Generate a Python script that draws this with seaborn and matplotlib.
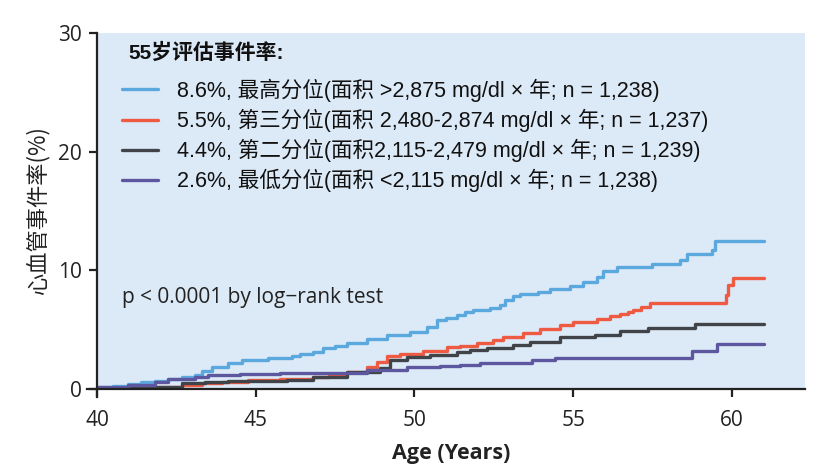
import matplotlib
matplotlib.use("Agg")
import matplotlib.pyplot as plt
from matplotlib.font_manager import FontProperties
import seaborn as sns
import pandas as pd

# ---- data ----
age_highest = [40.0, 40.04, 40.5, 40.99, 41.4, 41.83, 42.25, 42.67, 43.09, 43.3, 43.61, 44.14, 44.56,
               45.4, 46.13, 46.39, 46.8, 47.13, 47.5, 47.86, 48.49, 49.12, 49.86, 50.38, 50.7, 51.0,
               51.33, 51.59, 51.85, 52.38, 52.69, 52.85, 53.11, 53.32, 53.9, 54.27, 54.9, 55.32, 55.74,
               55.95, 56.37, 57.47, 58.36, 58.57, 59.36, 59.46, 61.0]
rate_highest = [0.0, 0.14, 0.28, 0.42, 0.56, 0.70, 0.84, 0.98, 1.18, 1.54, 1.88, 2.16, 2.44,
                2.58, 2.78, 2.95, 3.15, 3.42, 3.65, 3.90, 4.19, 4.55, 4.83, 5.25, 5.81, 6.00,
                6.23, 6.51, 6.68, 6.80, 7.08, 7.50, 7.83, 8.00, 8.15, 8.40, 8.68, 8.99, 9.46,
                9.97, 10.25, 10.50, 10.87, 11.35, 11.70, 12.47, 12.47]

age_third = [40.0, 41.2, 41.83, 42.67, 43.3, 43.93, 44.77, 45.76, 46.81, 47.3, 47.86, 48.49, 48.81,
             49.12, 49.54, 50.28, 51.01, 51.43, 51.96, 52.48, 52.8, 53.43, 53.95, 54.58, 55.0, 55.74,
             56.16, 56.47, 56.73, 56.89, 57.15, 57.42, 59.81, 59.86, 60.02, 61.0]
rate_third = [0.0, 0.06, 0.20, 0.31, 0.48, 0.62, 0.76, 0.81, 1.04, 1.25, 1.46, 1.83, 2.30,
              2.78, 2.95, 3.23, 3.51, 3.65, 3.90, 4.13, 4.41, 4.69, 5.03, 5.39, 5.62, 5.87,
              6.15, 6.29, 6.51, 6.65, 6.94, 7.22, 7.92, 8.76, 9.38, 9.38]

age_second = [40.0, 40.6, 41.6, 42.67, 43.4, 44.14, 46.0, 46.81, 47.86, 48.91, 49.23, 49.75, 50.49,
              51.33, 51.75, 52.27, 53.11, 53.64, 54.58, 55.69, 56.47, 57.36, 58.83, 61.0]
rate_second = [0.0, 0.06, 0.20, 0.48, 0.62, 0.70, 0.80, 1.04, 1.46, 1.74, 2.44, 2.67, 2.86,
               3.10, 3.29, 3.48, 3.71, 3.99, 4.35, 4.55, 4.91, 5.11, 5.48, 5.48]

age_lowest = [40.0, 40.04, 40.99, 41.83, 42.25, 43.09, 43.5, 44.5, 45.76, 47.0, 48.49, 49.75, 50.8,
              51.43, 52.06, 53.69, 54.43, 58.73, 59.52, 61.0]
rate_lowest = [0.0, 0.14, 0.34, 0.62, 0.81, 0.98, 1.15, 1.25, 1.32, 1.37, 1.60, 1.83, 1.94,
               2.02, 2.22, 2.44, 2.58, 3.23, 3.79, 3.79]

labels = ["8.6%, 最高分位(面积 >2,875 mg/dl × 年; n = 1,238)",
          "5.5%, 第三分位(面积 2,480-2,874 mg/dl × 年; n = 1,237)",
          "4.4%, 第二分位(面积2,115-2,479 mg/dl × 年; n = 1,239)",
          "2.6%, 最低分位(面积 <2,115 mg/dl × 年; n = 1,238)"]
colors = ["#5BA8DF", "#EF5A43", "#404347", "#5C579F"]
legend_title = "55岁评估事件率:"
x_ticks = [40, 45, 50, 55, 60]
y_ticks = [0, 10, 20, 30]
x_label = "Age (Years)"
y_label = "心血管事件率(%)"
p_text = "p < 0.0001 by log\u2212rank test"

series = [(age_highest, rate_highest), (age_third, rate_third),
          (age_second, rate_second), (age_lowest, rate_lowest)]

# ---- plot ----
sns.set_theme(style="white")
plt.rcParams['font.family'] = ['Open Sans', 'Noto Sans CJK SC', 'DejaVu Sans']

fig = plt.figure(figsize=(8.31, 4.72), dpi=100)
ax = fig.add_axes([0.1167, 0.1758, 0.852, 0.7542])
ax.set_facecolor("#DCE9F6")

for (xs, ys), lab, col in zip(series, labels, colors):
    df = pd.DataFrame({"age": xs, "rate": ys})
    sns.lineplot(data=df, x="age", y="rate", ax=ax, color=col, lw=2.4,
                 drawstyle="steps-post", estimator=None, sort=False, label=lab)

ax.set_xlim(40, 62.3)
ax.set_ylim(0, 30)
ax.set_xticks(x_ticks)
ax.set_yticks(y_ticks)
ax.tick_params(axis="both", direction="out", length=6, width=1.6, color="#222222",
               labelsize=15, labelcolor="#222222", bottom=True, left=True)
ax.tick_params(axis="x", pad=9)
ax.tick_params(axis="y", pad=5)
for s in ["top", "right"]:
    ax.spines[s].set_visible(False)
for s in ["left", "bottom"]:
    ax.spines[s].set_color("#222222")
    ax.spines[s].set_linewidth(1.6)
ax.spines["bottom"].set_bounds(39.7, 62.3)
ax.spines["left"].set_bounds(-0.7, 30)

ax.set_xlabel(x_label, fontsize=15.5, fontweight="bold", color="#222222",
              family=['Liberation Sans Narrow', 'Open Sans', 'DejaVu Sans'], labelpad=9)
ax.set_ylabel(y_label, fontsize=16, color="#222222",
              family=['Noto Sans CJK SC', 'DejaVu Sans'], labelpad=6)

ax.text(40.8, 7.7, p_text, fontsize=15, color="#222222", va="center", ha="left",
        family=['Open Sans', 'DejaVu Sans'])

ax.text(0.0438, 0.944, legend_title, transform=ax.transAxes, fontsize=15, fontweight="bold",
        color="#111111", va="center", ha="left",
        family=['Liberation Sans', 'Noto Sans CJK SC', 'DejaVu Sans'])

leg_font = FontProperties(family=['Liberation Sans', 'Noto Sans CJK SC', 'DejaVu Sans'], size=15.5)
leg = ax.legend(loc="upper left", bbox_to_anchor=(0.0353, 0.872), frameon=False,
                prop=leg_font, handlelength=1.67, handletextpad=0.88, labelspacing=0.32,
                borderaxespad=0, borderpad=0)
for line in leg.get_lines():
    line.set_linewidth(2.4)
for t in leg.get_texts():
    t.set_color("#111111")

fig.savefig("out.png", dpi=100)
